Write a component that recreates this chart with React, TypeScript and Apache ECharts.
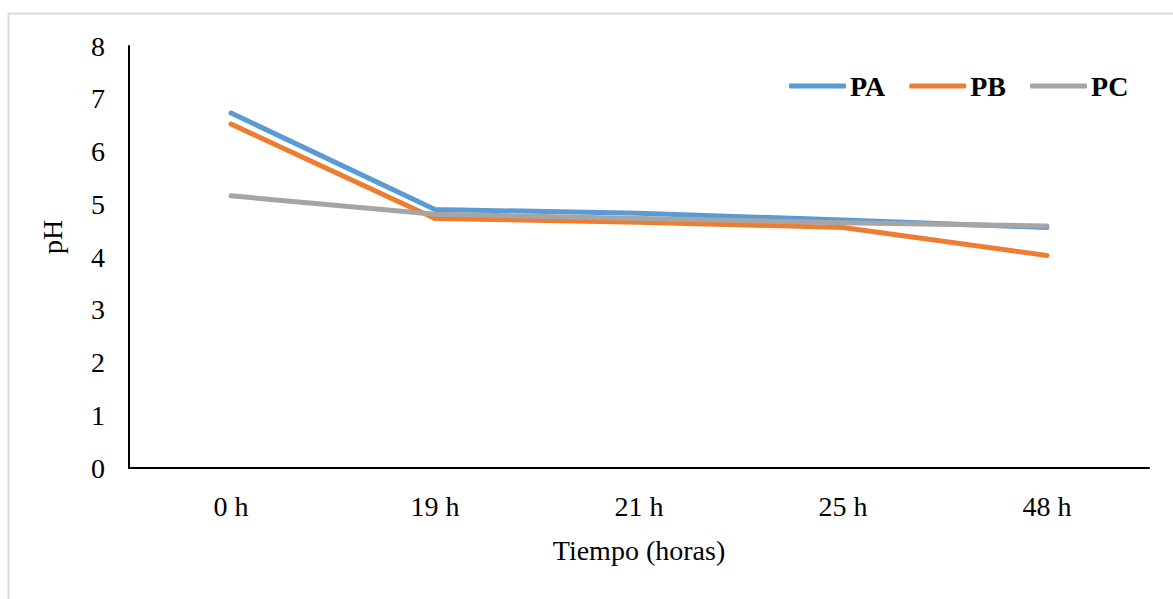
import React, { useEffect, useRef } from "react";
import * as echarts from "echarts";

const categories = ["0 h", "19 h", "21 h", "25 h", "48 h"];
const seriesNames = ["PA", "PB", "PC"];
const paValues = [6.73, 4.9, 4.83, 4.7, 4.56];
const pbValues = [6.52, 4.73, 4.66, 4.56, 4.03];
const pcValues = [5.16, 4.81, 4.73, 4.65, 4.59];
const yTicks = [0, 1, 2, 3, 4, 5, 6, 7, 8];
const colors = ["#5B9BD5", "#ED7D31", "#A5A5A5"];

const FONT = '"Liberation Serif", "Times New Roman", serif';

export default function App() {
  const ref = useRef<HTMLDivElement>(null);
  useEffect(() => {
    if (!ref.current) return;
    const chart = echarts.init(ref.current, null, { renderer: "svg" });
    const values = [paValues, pbValues, pcValues];
    chart.setOption({
      animation: false,
      backgroundColor: "#ffffff",
      color: colors,
      grid: { left: 129, right: 24, top: 46, bottom: 131 },
      legend: {
        data: seriesNames,
        left: 784,
        top: 67,
        icon: "roundRect",
        itemWidth: 57,
        itemHeight: 5,
        itemGap: 24,
        textStyle: {
          fontFamily: FONT,
          fontSize: 28,
          fontWeight: "bold",
          color: "#000",
          padding: [0, 0, 0, -1],
        },
      },
      xAxis: {
        type: "category",
        data: categories,
        boundaryGap: true,
        axisLine: { show: true, lineStyle: { color: "#000", width: 2 } },
        axisTick: { show: false },
        axisLabel: {
          fontFamily: FONT,
          fontSize: 28,
          color: "#000",
          margin: 24,
        },
        name: "Tiempo (horas)",
        nameLocation: "middle",
        nameGap: 68,
        nameTextStyle: { fontFamily: FONT, fontSize: 28, color: "#000" },
      },
      yAxis: {
        type: "value",
        min: yTicks[0],
        max: yTicks[yTicks.length - 1],
        interval: 1,
        axisLine: { show: true, lineStyle: { color: "#000", width: 2 } },
        axisTick: { show: false },
        splitLine: { show: false },
        axisLabel: {
          fontFamily: FONT,
          fontSize: 28,
          color: "#000",
          margin: 24,
        },
      },
      graphic: [
        {
          type: "rect",
          shape: { x: 8.5, y: 13.5, width: 1300, height: 800 },
          style: { fill: "none", stroke: "#d9d9d9", lineWidth: 2 },
          silent: true,
        },
        {
          type: "text",
          x: 52,
          y: 237,
          rotation: Math.PI / 2,
          style: {
            text: "pH",
            fontFamily: FONT,
            fontSize: 28,
            fill: "#000",
            textAlign: "center",
            textVerticalAlign: "middle",
          },
        },
      ],
      series: seriesNames.map((name, i) => ({
        name,
        type: "line",
        data: values[i],
        showSymbol: false,
        symbol: "none",
        lineStyle: { width: 5, cap: "round", join: "round", color: colors[i] },
        itemStyle: { color: colors[i] },
      })),
    });
    return () => chart.dispose();
  }, []);
  return (
    <div
      ref={ref}
      style={{ position: "fixed", left: 0, top: 0, width: 1173, height: 599, background: "#fff" }}
    />
  );
}
